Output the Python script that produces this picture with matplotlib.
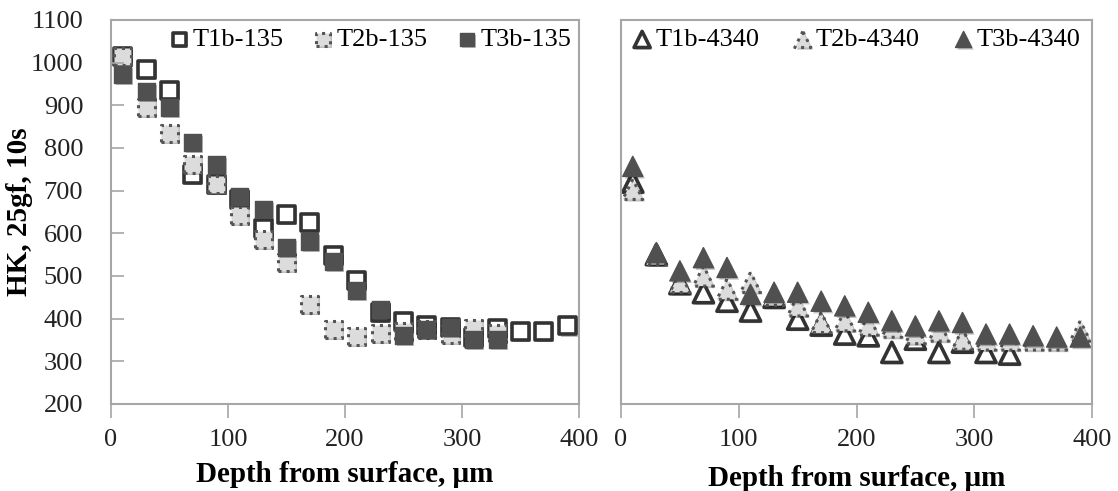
import os
os.environ.setdefault("MPLBACKEND", "Agg")

import matplotlib.pyplot as plt
import matplotlib.patheffects as pe

# depth positions (um)
depth = [10, 30, 50, 70, 90, 110, 130, 150, 170, 190,
         210, 230, 250, 270, 290, 310, 330, 350, 370, 390]

# 135 steel, Knoop hardness
t1b_135 = [1015, 985, 935, 738, 715, 680, 612, 644, 625, 548,
           490, 415, 393, 385, 380, 355, 378, 370, 370, 383]
t2b_135 = [1014, 896, 835, 761, 714, 642, 586, 532, 434, 375,
           358, 366, 370, 375, 362, 378, 365]
t3b_135 = [972, 932, 894, 813, 761, 687, 656, 567, 582, 535,
           467, 422, 360, 375, 380, 352, 352]

# 4340 steel, Knoop hardness
t1b_4340 = [720, 550, 482, 461, 441, 418, 450, 399, 385, 364,
            360, 321, 352, 321, 345, 321, 317]
t2b_4340 = [703, 550, 485, 500, 469, 485, 455, 430, 391, 395,
            385, 380, 365, 371, 352, 350, 350, 350, 350, 371]
t3b_4340 = [757, 555, 512, 543, 520, 457, 462, 462, 441, 430,
            415, 395, 383, 395, 391, 364, 364, 360, 357, 357]

xticks = [0, 100, 200, 300, 400]
yticks = [200, 300, 400, 500, 600, 700, 800, 900, 1000, 1100]

plt.rcParams['font.family'] = ['Liberation Serif', 'DejaVu Serif']

DARK = '#505050'
EDGE = '#333333'
LIGHT = '#dcdcdc'
SPINE = '#a6a6a6'
shadow = [pe.SimplePatchShadow(offset=(1.5, -1.5), shadow_rgbFace='k', alpha=0.25), pe.Normal()]

fig = plt.figure(figsize=(11.18, 4.91), dpi=100)
W, H = 1118, 491
ax1 = fig.add_axes([111 / W, (H - 404) / H, (579 - 111) / W, (404 - 20) / H])
ax2 = fig.add_axes([621 / W, (H - 404) / H, (1092 - 621) / W, (404 - 20) / H])


def draw(ax, x, y, marker, style, size, label):
    n = len(y)
    if style == 'open':
        kw = dict(facecolors='white', edgecolors=EDGE, linewidths=2.6)
    elif style == 'dotted':
        kw = dict(facecolors=LIGHT, edgecolors='#555555', linewidths=2.2, linestyles=':')
    else:
        kw = dict(facecolors=DARK, edgecolors=DARK, linewidths=1.0)
    sc = ax.scatter(x[:n], y, s=size, marker=marker, label=label, clip_on=False, **kw)
    sc.set_path_effects(shadow)
    return sc


draw(ax1, depth, t1b_135, 's', 'open', 150, 'T1b-135')
draw(ax1, depth, t2b_135, 's', 'dotted', 150, 'T2b-135')
draw(ax1, depth, t3b_135, 's', 'filled', 150, 'T3b-135')

draw(ax2, depth, t1b_4340, '^', 'open', 210, 'T1b-4340')
draw(ax2, depth, t2b_4340, '^', 'dotted', 210, 'T2b-4340')
draw(ax2, depth, t3b_4340, '^', 'filled', 210, 'T3b-4340')

for ax in (ax1, ax2):
    ax.set_xlim(0, 400)
    ax.set_ylim(200, 1100)
    ax.set_xticks(xticks)
    ax.set_yticks(yticks)
    for s in ax.spines.values():
        s.set_color(SPINE)
        s.set_linewidth(1.5)
    ax.tick_params(axis='x', direction='out', length=10, width=1.2, color=SPINE,
                   labelsize=19, labelcolor='#222222', pad=8)

ax1.set_xlabel('Depth from surface, μm', fontsize=21, fontweight='bold', labelpad=7)
ax2.set_xlabel('Depth from surface, μm', fontsize=21, fontweight='bold', labelpad=10)
ax1.tick_params(axis='y', direction='in', length=9, width=1.2, color=SPINE,
                labelsize=19, labelcolor='#222222', pad=20)
ax1.set_ylabel('HK, 25gf, 10s', fontsize=21, fontweight='bold')
ax1.yaxis.set_label_coords(-0.166, 0.5)
ax2.tick_params(axis='y', left=False, labelleft=False)

ax1.legend(loc='upper right', ncol=3, frameon=False, fontsize=19, handletextpad=0.0,
           columnspacing=1.0, handlelength=1.0, borderaxespad=0.1, borderpad=0.2,
           scatterpoints=1, markerscale=0.8)
ax2.legend(loc='upper left', ncol=3, frameon=False, fontsize=19, handletextpad=0.0,
           columnspacing=1.15, handlelength=1.0, borderaxespad=0.1, borderpad=0.2,
           scatterpoints=1, markerscale=0.8)

fig.savefig('out.png', dpi=100)
